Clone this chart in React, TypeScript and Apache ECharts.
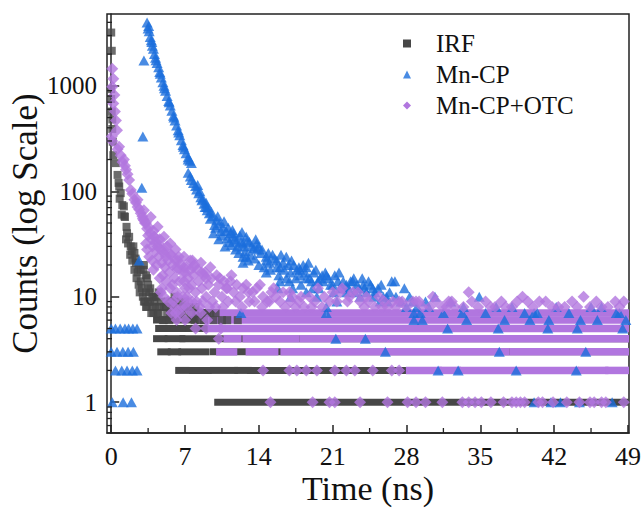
import React, { useEffect, useRef } from "react";
import * as echarts from "echarts";

const xTicks = [0, 7, 14, 21, 28, 35, 42, 49];
const xMinorTicks = [3.5, 10.5, 17.5, 24.5, 31.5, 38.5, 45.5];
const yMinorTicks = [0.6, 0.7, 0.8, 0.9, 2, 3, 4, 5, 6, 7, 8, 9, 20, 30, 40, 50, 60, 70, 80, 90, 200, 300, 400, 500, 600, 700, 800, 900, 2000, 3000, 4000];

// IRF: scattered points [t (ns), counts]
const irfPoints: number[][] = [
  [0.0, 3200], [0.05, 2150], [0.0, 930], [0.0, 750], [0.05, 570], [0.1, 480], [0.1, 390], [0.15, 295], [0.2, 220],
  [0.44, 185], [0.6, 143], [0.7, 120], [0.76, 111], [0.8, 85], [0.9, 96], [1.0, 60], [1.05, 74], [1.2, 72], [1.25, 58], [1.3, 57],
  [1.4, 35], [1.45, 46], [1.5, 40], [1.6, 32], [1.7, 37], [1.8, 25], [1.85, 30], [1.95, 27], [2.0, 22], [2.1, 30], [2.2, 26],
  [2.2, 18], [2.3, 23], [2.35, 21], [2.4, 15], [2.5, 17], [2.6, 20], [2.6, 13], [2.8, 18], [2.8, 14], [2.7, 11], [2.9, 12],
  [3.0, 10], [3.05, 18], [3.1, 20], [3.1, 9], [3.2, 9], [3.3, 16], [3.3, 11], [3.3, 8], [3.4, 15], [3.4, 8], [3.5, 13],
  [3.5, 9], [3.6, 11], [3.7, 12], [3.7, 9], [3.8, 7], [3.9, 10], [3.9, 8], [4.0, 10], [4.0, 7], [4.1, 9], [4.2, 8],
  [4.3, 10], [4.4, 7], [4.5, 11], [4.5, 7], [4.6, 8], [4.7, 9], [4.9, 6], [5.0, 6], [5.0, 8], [5.2, 8], [5.3, 7],
  [5.4, 9], [5.5, 6], [5.6, 7], [5.7, 8], [5.8, 9], [6.0, 10], [6.1, 8], [6.2, 7], [6.4, 9], [6.6, 7], [6.8, 8],
  [6.9, 7], [7.0, 9], [7.2, 8], [7.4, 8], [7.6, 7], [7.9, 6], [8.0, 8], [8.2, 7], [8.4, 6], [8.6, 7], [8.8, 6],
  [9.1, 7], [9.4, 7], [9.7, 6], [9.9, 7], [10.5, 6], [11.0, 6], [12.0, 6],
];
// IRF: dense runs of points along one count level [counts, t start, t end]
const irfBands: number[][] = [
  [6, 4.3, 8.0],
  [5, 4.5, 7.2], [5, 7.4, 8.8], [5, 9.2, 49.2],
  [4, 4.3, 5.0], [4, 5.4, 6.7], [4, 6.8, 49.2],
  [3, 4.7, 5.3], [3, 5.7, 6.3], [3, 6.7, 9.0], [3, 9.7, 49.2],
  [2, 6.4, 7.1], [2, 7.7, 9.2], [2, 9.7, 11.7], [2, 12.0, 13.0], [2, 13.2, 16.3], [2, 16.6, 49.2],
  [1, 10.1, 49.2],
];

// Mn-CP
const mnPoints: number[][] = [
  [0.0, 5], [0.4, 5], [0.85, 5], [1.3, 5], [1.65, 5], [2.05, 5], [2.45, 5],
  [0.0, 3], [0.55, 3], [1.1, 3], [1.6, 3], [2.1, 3],
  [0.4, 2], [1.0, 2], [1.5, 2], [2.0, 2], [2.45, 2],
  [0.1, 1], [1.13, 1], [1.92, 1],
  [2.65, 22], [2.9, 108], [3.0, 330], [3.1, 1740],
  [3.4, 3980], [3.5, 3500], [3.55, 3700], [3.6, 3300], [3.7, 2900], [3.8, 2700], [3.85, 2600], [3.9, 2400], [4.0, 2250],
  [4.1, 2000], [4.2, 1850], [4.25, 1750], [4.35, 1650], [4.5, 1500], [4.6, 1350], [4.65, 1300], [4.75, 1200], [4.9, 1080],
  [5.0, 1000], [5.05, 950], [5.15, 900], [5.3, 800], [5.45, 720], [5.5, 700], [5.6, 650], [5.75, 580], [5.9, 520],
  [5.95, 500], [6.05, 470], [6.2, 420], [6.35, 380], [6.4, 360], [6.5, 340], [6.65, 305], [6.8, 275], [6.85, 265],
  [6.95, 250], [7.1, 230], [7.3, 210], [7.3, 200], [7.45, 195], [7.6, 185],
  [7.3, 150], [7.5, 138], [7.6, 128], [7.8, 120], [8.0, 112], [8.1, 104], [8.2, 115], [8.3, 96], [8.4, 100], [8.5, 88],
  [8.6, 82], [8.7, 85], [8.8, 76], [8.9, 71], [9.0, 78], [9.05, 71], [9.1, 66], [9.2, 70], [9.3, 62], [9.4, 55], [9.5, 64],
  [9.6, 58], [9.7, 40], [9.8, 48], [9.9, 45], [10.0, 53], [10.1, 58], [10.2, 35], [10.3, 50], [10.4, 42], [10.5, 38],
  [10.6, 46], [10.7, 52], [10.8, 30], [10.9, 42], [11.0, 36], [11.1, 45], [11.2, 33], [11.3, 40], [11.4, 31], [11.5, 43],
  [11.6, 37], [11.6, 40], [11.7, 35], [11.8, 28], [11.9, 34], [12.0, 30], [12.1, 26], [12.2, 38], [12.3, 33], [12.4, 41],
  [12.5, 24], [12.5, 32], [12.5, 21], [12.6, 30], [12.7, 27], [12.8, 37], [12.8, 24], [12.9, 34], [13.0, 22], [13.1, 33],
  [13.2, 25], [13.3, 30], [13.5, 29], [13.6, 23], [13.7, 35], [13.8, 32], [13.8, 28], [14.0, 30], [14.0, 20], [14.2, 26],
  [14.3, 28], [14.5, 19], [14.7, 24], [14.7, 22], [14.7, 17], [14.9, 26], [15.0, 21], [15.1, 18], [15.3, 25], [15.5, 23],
  [15.7, 22], [15.7, 19], [15.8, 12], [15.9, 16], [16.0, 19], [16.0, 14], [16.1, 25], [16.3, 21], [16.4, 18], [16.6, 24],
  [16.6, 15], [16.8, 20], [16.9, 14], [17.0, 17], [17.0, 10], [17.1, 22], [17.2, 12], [17.3, 20], [17.5, 15], [17.6, 18],
  [17.8, 19], [17.9, 16], [17.9, 18], [18.0, 13], [18.2, 20], [18.4, 17], [18.5, 19], [18.5, 15], [18.5, 11], [18.7, 21],
  [18.8, 15], [19.0, 14], [19.1, 12], [19.2, 17], [19.4, 18], [19.5, 10], [19.6, 14], [19.7, 12], [19.8, 15], [20.0, 16],
  [20.1, 14], [20.3, 17], [20.4, 16], [20.4, 8], [20.6, 15], [20.8, 13], [21.0, 13], [21.1, 11], [21.2, 16], [21.4, 9],
  [21.5, 14], [21.6, 17], [21.7, 12], [21.9, 12], [22.0, 14], [22.3, 13], [22.3, 11], [22.5, 12], [22.7, 14], [22.9, 14],
  [23.0, 15], [23.1, 11], [23.3, 13], [23.5, 12], [23.6, 10], [23.8, 15], [23.9, 13], [24.0, 12], [24.2, 11], [24.4, 14],
  [24.6, 13], [24.8, 12], [24.9, 10], [25.0, 11], [25.3, 12], [25.5, 9], [25.6, 13], [25.8, 10], [26.1, 10], [26.2, 9],
  [26.4, 11], [26.6, 14], [26.9, 14], [27.0, 10], [27.5, 9], [27.8, 12], [28.0, 8], [28.3, 10], [28.6, 9], [28.7, 7],
  [29.0, 8], [29.8, 9],
  [30.7, 10], [30.1, 8], [31.5, 7], [32.2, 9], [33.4, 8], [34.9, 10], [35.5, 7], [36.5, 8], [37.3, 6], [38.0, 8],
  [39.2, 7], [40.1, 7], [41.5, 6], [42.2, 8], [43.4, 7], [44.5, 6], [45.5, 8], [46.5, 8], [47.9, 7], [48.2, 7], [48.8, 6],
  [12.3, 7], [20.4, 7], [29.3, 7], [33.3, 7], [40.4, 7],
  [28.7, 6], [29.5, 6], [31.9, 5], [33.7, 6], [36.7, 5], [39.7, 6], [41.4, 5], [44.2, 5], [46.1, 6], [48.5, 5],
  [21.3, 4], [24.1, 4], [26.0, 3], [36.8, 3], [45.0, 3],
  [31.0, 2], [32.9, 2], [38.4, 2], [44.1, 2],
  [40.1, 1], [41.7, 1], [42.6, 1], [44.4, 1], [47.5, 1],
];

// Mn-CP+OTC
const otcPoints: number[][] = [
  [0.1, 1450], [0.2, 1170], [0.1, 980], [0.3, 820], [0.2, 680], [0.35, 570], [0.45, 470], [0.55, 380], [0.05, 330],
  [0.1, 300], [0.6, 250], [0.75, 265], [0.9, 220], [1.07, 190], [1.2, 200], [1.3, 175], [1.4, 160], [1.55, 145],
  [1.7, 128], [1.86, 103], [2.0, 95], [2.2, 83], [2.35, 78], [2.5, 83], [2.5, 71], [2.65, 67], [2.8, 62], [2.95, 58],
  [3.1, 66], [3.1, 53], [3.3, 50], [3.6, 45], [3.75, 57], [4.1, 37], [4.4, 46], [4.5, 32], [5.0, 28], [5.6, 25],
  [6.3, 22], [6.9, 19], [7.5, 18], [8.2, 18], [8.5, 21], [7.7, 22], [6.9, 24], [6.1, 28], [5.6, 32], [5.0, 37],
  [3.0, 55], [3.2, 50], [3.4, 44], [3.5, 38], [3.3, 32], [3.7, 40], [3.8, 35], [3.9, 30], [4.0, 42], [4.1, 37],
  [4.2, 33], [4.2, 27], [4.4, 30], [4.5, 24], [4.6, 35], [4.7, 28], [4.8, 21], [4.8, 12], [4.9, 16], [5.0, 26],
  [5.1, 19], [5.2, 14], [5.3, 30], [5.4, 22], [5.5, 17], [5.6, 12], [5.7, 25], [5.8, 20], [5.9, 9], [6.0, 15],
  [6.1, 22], [6.2, 11], [6.3, 18], [6.4, 24], [6.5, 14], [6.6, 20], [6.7, 8], [6.8, 17], [7.0, 12], [7.1, 19],
  [7.2, 10], [7.3, 15], [7.5, 22], [7.6, 13], [7.7, 9], [7.8, 16], [7.9, 20], [8.0, 11], [8.3, 14], [8.4, 8],
  [8.6, 12], [8.8, 16], [8.9, 17], [9.0, 10], [9.2, 13], [9.4, 19], [9.5, 15], [9.6, 9], [9.8, 11], [10.0, 16],
  [3.4, 28], [3.6, 24], [3.9, 22], [4.0, 18], [4.3, 20], [4.6, 15], [4.7, 11], [5.0, 10], [5.2, 24], [5.4, 9],
  [5.8, 13], [6.0, 8], [6.2, 19], [6.3, 10], [6.8, 10], [6.9, 14], [7.0, 17], [7.3, 9], [7.4, 12], [7.8, 19],
  [8.1, 9], [8.6, 17], [8.7, 9], [9.0, 15], [9.3, 8], [9.9, 8],
  [10.2, 13], [10.3, 15], [10.5, 10], [10.6, 8], [10.7, 14], [10.9, 12], [11.0, 12], [11.1, 9], [11.3, 14], [11.4, 16],
  [11.6, 11], [11.8, 9], [11.9, 13], [12.2, 10], [12.4, 8], [12.5, 12], [12.8, 13], [13.0, 11], [13.1, 9], [13.4, 11],
  [13.6, 9], [13.8, 12], [14.1, 13], [14.3, 8], [14.4, 10], [14.8, 9], [15.0, 9], [15.2, 11], [15.4, 12], [15.6, 10],
  [16.0, 9], [16.3, 11], [16.5, 8], [16.9, 11], [17.0, 9], [17.2, 10], [17.5, 8], [17.8, 9], [18.0, 10], [18.3, 8],
  [18.8, 10], [19.0, 8], [19.3, 9], [19.6, 12], [20.0, 8], [20.2, 10], [20.7, 9], [21.0, 11], [21.4, 9], [21.7, 11],
  [21.9, 12], [22.4, 9], [22.6, 10], [22.9, 11], [23.4, 11], [23.6, 9], [24.0, 8], [24.2, 10], [24.4, 9], [25.0, 8],
  [25.4, 10], [25.7, 8], [25.9, 9], [26.2, 8], [26.7, 9], [27.0, 8], [27.3, 9], [27.6, 9], [28.0, 8], [28.6, 9],
  [28.9, 9], [29.2, 9], [29.5, 8], [30.2, 8], [30.5, 10], [30.8, 9], [31.4, 8], [31.8, 8], [32.0, 9], [32.3, 9],
  [32.6, 8], [33.4, 8], [33.9, 11], [34.2, 9], [34.8, 8], [35.5, 9], [36.0, 8], [36.4, 8], [37.0, 9], [37.4, 8],
  [38.0, 8], [38.5, 9], [39.0, 10], [39.5, 9], [40.0, 8], [40.6, 9], [41.2, 9], [41.8, 8], [42.4, 8], [43.0, 8],
  [43.7, 9], [44.2, 8], [44.8, 10], [45.4, 8], [46.0, 9], [46.5, 8], [47.1, 8], [47.8, 9], [48.2, 8], [48.6, 9],
  [5.7, 7], [6.1, 7], [6.5, 7], [7.1, 8], [7.6, 7], [8.5, 7], [6.2, 6], [7.0, 6], [9.1, 6], [8.0, 5], [9.0, 5], [10.4, 5],
  [10.2, 4],
  [14.4, 2], [16.9, 2], [17.6, 2], [18.5, 2], [19.5, 2], [21.2, 2], [22.3, 2], [23.1, 2], [24.8, 2], [26.6, 2], [27.3, 2],
  [15.1, 1], [19.1, 1], [20.7, 1], [21.2, 1], [23.6, 1], [26.2, 1], [28.1, 1], [28.9, 1], [29.8, 1], [31.4, 1],
  [33.3, 1], [33.9, 1], [34.5, 1], [35.1, 1], [36.0, 1], [37.2, 1], [38.0, 1], [38.4, 1], [38.8, 1], [39.2, 1],
  [40.5, 1], [40.9, 1], [41.9, 1], [43.2, 1], [44.4, 1], [45.4, 1], [45.8, 1], [46.5, 1], [46.9, 1], [48.6, 1],
];
const otcBands: number[][] = [
  [7, 8.0, 12.0], [7, 12.6, 20.0], [7, 20.8, 29.0], [7, 29.6, 33.0], [7, 33.6, 40.0], [7, 40.8, 49.2],
  [6, 8.5, 49.2],
  [5, 9.5, 49.2],
  [4, 11.0, 12.0], [4, 12.8, 17.5], [4, 18.2, 49.2],
  [3, 10.3, 11.6], [3, 13.1, 15.5], [3, 16.4, 37.4], [3, 38.1, 49.2],
  [2, 28.3, 31.0], [2, 31.4, 32.8], [2, 33.3, 44.0], [2, 44.6, 46.8], [2, 47.2, 49.2],
];

const GRAY = "#474747";
const BLUE = "#1b6edc";
const PURPLE = "#b176df";
const FONT = "'Liberation Serif', 'Times New Roman', serif";
const AXIS = "#222";

function bandRenderer(h: number, color: string) {
  return (params: any, api: any) => {
    const cs = params.coordSys;
    const a = api.coord([api.value(1), api.value(0)]);
    const b = api.coord([api.value(2), api.value(0)]);
    const x0 = Math.max(cs.x, a[0] - h / 2);
    const x1 = Math.min(cs.x + cs.width, b[0] + h / 2);
    return {
      type: "rect",
      shape: { x: x0, y: a[1] - h / 2, width: Math.max(0, x1 - x0), height: h },
      style: { fill: color },
    };
  };
}

export default function App() {
  const ref = useRef<HTMLDivElement>(null);
  useEffect(() => {
    document.body.style.margin = "0";
    const chart = echarts.init(ref.current!, null, { renderer: "svg" });
    chart.setOption({
      animation: false,
      backgroundColor: "#fff",
      color: [GRAY, BLUE, PURPLE],
      textStyle: { fontFamily: FONT },
      grid: {
        left: 107, right: 15, top: 14, bottom: 76,
        containLabel: false, outerBoundsMode: "none",
        show: true, borderColor: AXIS, borderWidth: 1.5, backgroundColor: "transparent",
      },
      legend: {
        orient: "vertical",
        left: 398,
        top: 26,
        itemWidth: 8,
        itemHeight: 8,
        itemGap: 6,
        selectedMode: false,
        data: [
          { name: "IRF", icon: "rect" },
          { name: "Mn-CP", icon: "triangle" },
          { name: "Mn-CP+OTC", icon: "diamond" },
        ],
        textStyle: { fontFamily: FONT, fontSize: 25, color: "#111", lineHeight: 25, padding: [0, 0, 0, 20] },
      },
      xAxis: {
        type: "value",
        min: -0.4,
        max: 49.1,
        name: "Time (ns)",
        nameLocation: "middle",
        nameGap: 38,
        nameMoveOverlap: false,
        nameTextStyle: { fontFamily: FONT, fontSize: 34, color: "#111" },
        axisLine: { show: true, lineStyle: { color: AXIS, width: 1.5 } },
        axisTick: { show: true, inside: true, length: 8, customValues: xTicks, lineStyle: { color: AXIS, width: 1.5 } },
        axisLabel: { customValues: xTicks, fontFamily: FONT, fontSize: 26, color: "#111", margin: 10 },
        splitLine: { show: false },
      },
      yAxis: {
        type: "log",
        logBase: 10,
        min: 0.51,
        max: 4800,
        name: "Counts (log Scale)",
        nameLocation: "middle",
        nameGap: 64,
        nameMoveOverlap: false,
        nameTextStyle: { fontFamily: FONT, fontSize: 35, color: "#111" },
        axisLine: { show: true, lineStyle: { color: AXIS, width: 1.5 } },
        axisTick: { show: true, inside: true, length: 8, lineStyle: { color: AXIS, width: 1.5 } },
        axisLabel: {
          fontFamily: FONT,
          fontSize: 25,
          color: "#111",
          margin: 10,
          showMinLabel: false,
          showMaxLabel: false,
          formatter: (v: number) => {
            const e = Math.log10(v);
            return Math.abs(e - Math.round(e)) < 1e-6 ? String(Math.round(v)) : "";
          },
        },
        splitLine: { show: false },
      },
      series: [
        {
          name: "IRF",
          type: "custom",
          itemStyle: { color: GRAY },
          dimensions: ["level", "t0", "t1"],
          encode: { x: [1, 2], y: 0 },
          renderItem: bandRenderer(7, GRAY),
          data: irfBands,
          silent: true,
        },
        {
          name: "IRF",
          type: "scatter",
          symbol: "rect",
          symbolSize: 8,
          itemStyle: { color: GRAY },
          data: irfPoints,
          silent: true,
        },
        {
          name: "Mn-CP",
          type: "scatter",
          symbol: "triangle",
          symbolSize: [11, 10],
          itemStyle: { color: BLUE },
          data: mnPoints,
          silent: true,
        },
        {
          name: "Mn-CP+OTC",
          type: "custom",
          itemStyle: { color: PURPLE },
          dimensions: ["level", "t0", "t1"],
          encode: { x: [1, 2], y: 0 },
          renderItem: bandRenderer(7.5, PURPLE),
          data: otcBands,
          silent: true,
        },
        {
          name: "Mn-CP+OTC",
          type: "scatter",
          symbol: "diamond",
          symbolSize: [12, 12],
          itemStyle: { color: PURPLE },
          data: otcPoints,
          silent: true,
        },
        {
          name: "yMinor",
          type: "custom",
          z: 10,
          silent: true,
          encode: { x: 0, y: 1 },
          data: yMinorTicks.map((v) => [0, v]),
          renderItem: (params: any, api: any) => {
            const cs = params.coordSys;
            const p = api.coord([0, api.value(1)]);
            return {
              type: "line",
              shape: { x1: cs.x, y1: p[1], x2: cs.x + 5, y2: p[1] },
              style: { stroke: AXIS, lineWidth: 1.3 },
            };
          },
        },
        {
          name: "xMinor",
          type: "custom",
          z: 10,
          silent: true,
          encode: { x: 0, y: 1 },
          data: xMinorTicks.map((v) => [v, 1]),
          renderItem: (params: any, api: any) => {
            const cs = params.coordSys;
            const p = api.coord([api.value(0), 1]);
            const yb = cs.y + cs.height;
            return {
              type: "line",
              shape: { x1: p[0], y1: yb, x2: p[0], y2: yb - 5 },
              style: { stroke: AXIS, lineWidth: 1.3 },
            };
          },
        },
      ],
    });
    return () => chart.dispose();
  }, []);
  return <div ref={ref} style={{ width: 644, height: 509 }} />;
}
